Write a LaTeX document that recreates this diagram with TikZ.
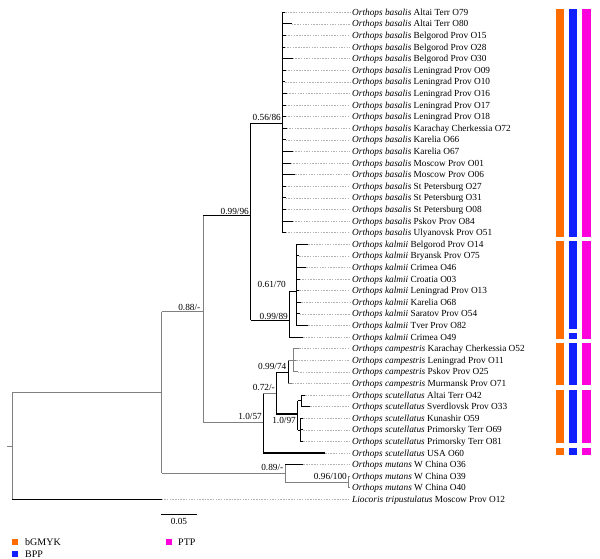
\documentclass[tikz,border=0pt]{standalone}
\usepackage{fontspec}
\setmainfont{Liberation Serif}
\definecolor{bOr}{RGB}{255,108,0}
\definecolor{bBl}{RGB}{16,32,255}
\definecolor{bMg}{RGB}{255,0,221}
\definecolor{brgray}{RGB}{128,128,128}
\tikzset{
 br/.style={draw=black, line width=0.9pt},
 gbr/.style={draw=brgray, line width=0.9pt},
 tbr/.style={draw=black, line width=1.5pt},
 dotln/.style={draw=gray!60, line width=0.5pt, dash pattern=on 1.5pt off 1.2pt},
 taxon/.style={anchor=base west, inner sep=0pt, font=\fontsize{9.3}{10}\selectfont},
 supp/.style={anchor=base east, inner sep=0pt, font=\fontsize{9.3}{10}\selectfont},
 legtxt/.style={anchor=base west, inner sep=0pt, font=\fontsize{10}{11}\selectfont},
}
\begin{document}
\begin{tikzpicture}[x=1pt,y=-1pt]
\useasboundingbox (0,0) rectangle (600,559);
% taxa
\foreach \i/\tx/\sp/\rest in {
 1/285/basalis/Altai Terr O79,
 2/291.7/basalis/Altai Terr O80,
 3/285.5/basalis/Belgorod Prov O15,
 4/284.5/basalis/Belgorod Prov O28,
 5/292.7/basalis/Belgorod Prov O30,
 6/285.5/basalis/Leningrad Prov O09,
 7/285/basalis/Leningrad Prov O10,
 8/286.7/basalis/Leningrad Prov O16,
 9/285.5/basalis/Leningrad Prov O17,
 10/285.5/basalis/Leningrad Prov O18,
 11/286.5/basalis/Karachay Cherkessia O72,
 12/285.5/basalis/Karelia O66,
 13/292.7/basalis/Karelia O67,
 14/290.7/basalis/Moscow Prov O01,
 15/295/basalis/Moscow Prov O06,
 16/285.5/basalis/St Petersburg O27,
 17/285.5/basalis/St Petersburg O31,
 18/285.5/basalis/St Petersburg O08,
 19/292.7/basalis/Pskov Prov O84,
 20/285.5/basalis/Ulyanovsk Prov O51,
 21/308.3/kalmii/Belgorod Prov O14,
 22/299/kalmii/Bryansk Prov O75,
 23/306/kalmii/Crimea O46,
 24/299.5/kalmii/Croatia O03,
 25/299/kalmii/Leningrad Prov O13,
 26/301/kalmii/Karelia O68,
 27/299.5/kalmii/Saratov Prov O54,
 28/308.3/kalmii/Tver Prov O82,
 29/303/kalmii/Crimea O49,
 30/299/campestris/Karachay Cherkessia O52,
 31/296/campestris/Leningrad Prov O11,
 32/297.5/campestris/Pskov Prov O25,
 33/292/campestris/Murmansk Prov O71,
 34/305/scutellatus/Altai Terr O42,
 35/310/scutellatus/Sverdlovsk Prov O33,
 36/303/scutellatus/Kunashir O59,
 37/303/scutellatus/Primorsky Terr O69,
 38/303/scutellatus/Primorsky Terr O81,
 39/325/scutellatus/USA O60,
 40/303.3/mutans/W China O36,
 41/350/mutans/W China O39,
 42/350/mutans/W China O40}{
  \pgfmathsetmacro\yy{12.3+(\i-1)*11.6}
  \coordinate (tip\i) at (\tx,\yy);
  \node[taxon] (t\i) at (352,{\yy+3}) {\textit{Orthops \sp} \rest};
  \draw[dotln] (tip\i) -- ([xshift=-2pt]tip\i -| t\i.west);
}
\pgfmathsetmacro\yy{12.3+42*11.6}
\coordinate (tip43) at (161.5,\yy);
\node[taxon] (t43) at (352,{\yy+3}) {\textit{Liocoris tripustulatus} Moscow Prov O12};
\draw[dotln] (tip43) -- ([xshift=-2pt]tip43 -| t43.west);
% internal nodes
\coordinate (root) at (12,446);
\coordinate (rstub) at (7,446);
\coordinate (ing) at (161.5,392.5);
\coordinate (n88) at (203,311.7);
\coordinate (n96) at (250.7,215.7);
\coordinate (n56) at (282.7,123.3);
\coordinate (n89) at (289.3,320);
\coordinate (n61) at (296.7,291.7);
\coordinate (n57) at (263.3,422.5);
\coordinate (n72) at (276,393);
\coordinate (n74) at (288.3,372.3);
\coordinate (ncs) at (293.3,360.3);
\coordinate (n97) at (297.5,414);
\coordinate (nsa) at (301.7,400.9);
\coordinate (nsb) at (300.5,430);
\coordinate (nmu) at (285,473.4);
\coordinate (n100) at (348.3,482.1);
% root
\draw[gbr] (rstub) -- (root);
\draw[gbr] (ing -| root) -- (tip43 -| root);
\draw[gbr] (ing -| root) -- (ing);
\draw[tbr] (tip43 -| root) -- (tip43);
% ingroup
\draw[gbr] (n88 -| ing) -- (nmu -| ing);
\draw[gbr] (n88 -| ing) -- (n88);
\draw[gbr] (nmu -| ing) -- (nmu);
% 0.88
\draw[gbr] (n96 -| n88) -- (n57 -| n88);
\draw[tbr] (n96 -| n88) -- (n96);
\draw[gbr] (n57 -| n88) -- (n57);
% 0.99/96
\draw[br] (n56 -| n96) -- (n89 -| n96);
\draw[br] (n56 -| n96) -- (n56);
\draw[br] (n89 -| n96) -- (n89);
% basalis comb
\draw[tbr] (tip1 -| n56) -- (tip20 -| n56);
\foreach \i in {1,...,20} \draw[br] (tip\i -| n56) -- (tip\i);
% kalmii
\draw[br] (n61 -| n89) -- (tip29 -| n89);
\draw[br] (n61 -| n89) -- (n61);
\draw[br] (tip29 -| n89) -- (tip29);
\draw[br] (tip21 -| n61) -- (tip28 -| n61);
\foreach \i in {21,...,28} \draw[br] (tip\i -| n61) -- (tip\i);
% 1.0/57
\draw[br] (n72 -| n57) -- (tip39 -| n57);
\draw[gbr] (n72 -| n57) -- (n72);
\draw[tbr] (tip39 -| n57) -- (tip39);
% 0.72
\draw[br] (n74 -| n72) -- (n97 -| n72);
\draw[br] (n74 -| n72) -- (n74);
\draw[tbr] (n97 -| n72) -- (n97);
% campestris
\draw[br] (ncs -| n74) -- (tip33 -| n74);
\draw[gbr] (ncs -| n74) -- (ncs);
\draw[gbr] (tip33 -| n74) -- (tip33);
\draw[gbr] (tip30 -| ncs) -- (tip32 -| ncs);
\foreach \i in {30,31,32} \draw[gbr] (tip\i -| ncs) -- (tip\i);
% scutellatus
\draw[br] (nsa -| n97) -- (nsb -| n97);
\draw[br] (nsa -| n97) -- (nsa);
\draw[br] (nsb -| n97) -- (nsb);
\draw[br] (tip34 -| nsa) -- (tip35 -| nsa);
\foreach \i in {34,35} \draw[br] (tip\i -| nsa) -- (tip\i);
\draw[br] (tip36 -| nsb) -- (tip38 -| nsb);
\foreach \i in {36,37,38} \draw[br] (tip\i -| nsb) -- (tip\i);
% mutans
\draw[gbr] (tip40 -| nmu) -- (n100 -| nmu);
\draw[tbr] (tip40 -| nmu) -- (tip40);
\draw[gbr] (n100 -| nmu) -- (n100);
\draw[gbr] (tip41 -| n100) -- (tip42 -| n100);
\foreach \i in {41,42} \draw[gbr] (tip\i -| n100) -- (tip\i);
% support values
\node[supp] (s88) at (200.5,310.3) {0.88/-};
\node[supp] (s96) at (249,214.8) {0.99/96};
\node[supp] (s56) at (281,120.4) {0.56/86};
\node[supp] (s61) at (286,287.1) {0.61/70};
\node[supp] (s89) at (288,319) {0.99/89};
\node[supp] (s57) at (262,419.8) {1.0/57};
\node[supp] (s72) at (275,390.8) {0.72/-};
\node[supp] (s74) at (286.5,369.8) {0.99/74};
\node[supp] (s97) at (296,423.5) {1.0/97};
\node[supp] (s89m) at (283.5,470.1) {0.89/-};
\node[supp] (s100) at (347,479.8) {0.96/100};
% scale bar
\coordinate (sb1) at (161.3,514);
\coordinate (sb2) at (196.7,514);
\draw[br] (sb1) -- (sb2);
\node[anchor=base, inner sep=0pt, font=\fontsize{9.3}{10}\selectfont] (sbl) at (179,524) {0.05};
% species-delimitation bars
\foreach \a/\b in {9/237.3, 240.7/339, 342.7/385, 390/442.7, 447.7/455}{
  \fill[bOr] (555.7,\a) rectangle (563.7,\b);
  \fill[bMg] (582.3,\a) rectangle (590.7,\b);
}
\foreach \a/\b in {9/237.3, 240.7/329.3, 332.7/339, 342.7/385, 390/442.7, 447.7/455}{
  \fill[bBl] (569,\a) rectangle (577.3,\b);
}
% legend
\fill[bOr] (11.7,539) rectangle (17.5,544.8);
\node[legtxt] (lg1) at (25,545.5) {bGMYK};
\fill[bBl] (11.7,550.8) rectangle (17.5,556.6);
\node[legtxt] (lg2) at (25,557.2) {BPP};
\fill[bMg] (165.7,539) rectangle (171.5,544.8);
\node[legtxt] (lg3) at (178,545.5) {PTP};
\end{tikzpicture}
\end{document}
